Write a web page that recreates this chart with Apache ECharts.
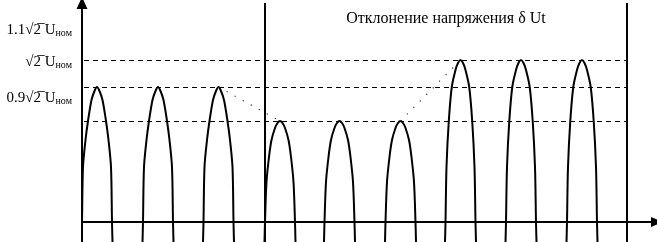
<!DOCTYPE html>
<html><head><meta charset="utf-8">
<script src="https://cdn.jsdelivr.net/npm/echarts@6/dist/echarts.min.js"></script>
<style>html,body{margin:0;padding:0;background:#fff}#c{width:657px;height:242px}</style>
</head><body><div id="c"></div>
<script>
// Hump curves [x, y] (x: time units, y: voltage units)
const hump1=[[-0.5,-20],[0,0],[1,55],[3.5,82],[6,101],[9.5,122],[12.5,131],[15,135],[17.5,131],[20.5,122],[24,101],[26.5,82],[29,55],[30,0],[30.5,-20]];
const hump2=[[60.5,-20],[61,0],[62,55],[64.5,82],[67,101],[70.5,122],[73.5,131],[76,135],[78.5,131],[81.5,122],[85,101],[87.5,82],[90,55],[91,0],[91.5,-20]];
const hump3=[[121,-20],[121.5,0],[122.5,55],[125,82],[127.5,101],[131,122],[134,131],[136.5,135],[139,131],[142,122],[145.5,101],[148,82],[150.5,55],[151.5,0],[152,-20]];
const hump4=[[182.5,-20],[183,0],[184.5,40],[187,65],[189.5,82],[193,94],[195.5,99],[198,101],[200.5,99],[203,94],[206.5,82],[209,65],[211.5,40],[213,0],[213.5,-20]];
const hump5=[[242,-20],[242.5,0],[244,40],[246.5,65],[249,82],[252.5,94],[255,99],[257.5,101],[260,99],[262.5,94],[266,82],[268.5,65],[271,40],[272.5,0],[273,-20]];
const hump6=[[303,-20],[303.5,0],[305,40],[307.5,65],[310,82],[313.5,94],[316,99],[318.5,101],[321,99],[323.5,94],[327,82],[329.5,65],[332,40],[333.5,0],[334,-20]];
const hump7=[[363,-20],[363.5,0],[364.5,55],[366.8,101],[369.8,135],[373.5,152],[376,159],[378.5,162],[381,159],[383.5,152],[387.2,135],[390.2,101],[392.5,55],[393.5,0],[394,-20]];
const hump8=[[423.5,-20],[424,0],[425,55],[427.3,101],[430.3,135],[434,152],[436.5,159],[439,162],[441.5,159],[444,152],[447.7,135],[450.7,101],[453,55],[454,0],[454.5,-20]];
const hump9=[[484.5,-20],[485,0],[486,55],[488.3,101],[491.3,135],[495,152],[497.5,159],[500,162],[502.5,159],[505,152],[508.7,135],[511.7,101],[514,55],[515,0],[515.5,-20]];
const humps=[hump1,hump2,hump3,hump4,hump5,hump6,hump7,hump8,hump9];

const levels=[162,135,101];          // dashed reference levels
const levelStart=2, levelEnd=545;
const dividers=[183,545];            // vertical separators
const transition1=[[136.5,135],[198,101]];
const transition2=[[318.5,101],[378.5,162]];
const tickValues=[192,160,124];
const tickMultipliers=['1.1\u221A2','\u221A2','0.9\u221A2'];
const tickSub='ном';
const titleText='Отклонение напряжения δ Ut';

const serif='"Liberation Serif","DejaVu Serif",serif';
const chart=echarts.init(document.getElementById('c'),null,{renderer:'canvas'});

const series=humps.map(h=>({
  type:'line',data:h,showSymbol:false,smooth:0.3,silent:true,
  lineStyle:{color:'#000',width:2},animation:false
}));
[transition1,transition2].forEach(t=>series.push({
  type:'line',data:t,showSymbol:false,silent:true,animation:false,
  lineStyle:{color:'#333',width:1.2,type:[1.2,8]}
}));
series.push({
  type:'line',data:[],silent:true,animation:false,
  markLine:{
    silent:true,symbol:['none','none'],label:{show:false},animation:false,
    data:levels.map(v=>[{coord:[levelStart,v]},{coord:[levelEnd,v]}]),
    lineStyle:{color:'#000',width:1,type:[5,4]}
  }
});
series.push({
  type:'line',data:[],silent:true,animation:false,
  markLine:{
    silent:true,symbol:['none','none'],label:{show:false},animation:false,
    data:dividers.map(x=>[{coord:[x,-20]},{coord:[x,219]}]),
    lineStyle:{color:'#000',width:2,type:'solid'}
  }
});

chart.setOption({
  animation:false,
  backgroundColor:'#fff',
  title:{text:titleText,left:441,top:6,textAlign:'center',
    textStyle:{fontFamily:serif,fontSize:16,fontWeight:'normal',color:'#000'}},
  grid:{left:82,right:0,top:3,bottom:0,containLabel:false},
  xAxis:{type:'value',min:0,max:575,
    axisLine:{show:true,onZero:true,symbol:['none','triangle'],symbolSize:[10,12],lineStyle:{color:'#000',width:2}},
    axisTick:{show:false},axisLabel:{show:false},splitLine:{show:false}},
  yAxis:{type:'value',min:-20,max:219,
    axisLine:{show:true,symbol:['none','triangle'],symbolSize:[11,12],lineStyle:{color:'#000',width:2}},
    axisTick:{show:false},splitLine:{show:false},
    axisLabel:{show:true,customValues:tickValues,margin:10,
      formatter:v=>{const i=tickValues.indexOf(v);return i<0?'':'{a|'+tickMultipliers[i]+'\u0305 U}{s|'+tickSub+'}';},
      rich:{a:{fontFamily:serif,fontSize:15,color:'#000'},s:{fontFamily:serif,fontSize:10,color:'#000',verticalAlign:'bottom',padding:[6,0,0,0]}}}},
  series:series
});
</script></body></html>
